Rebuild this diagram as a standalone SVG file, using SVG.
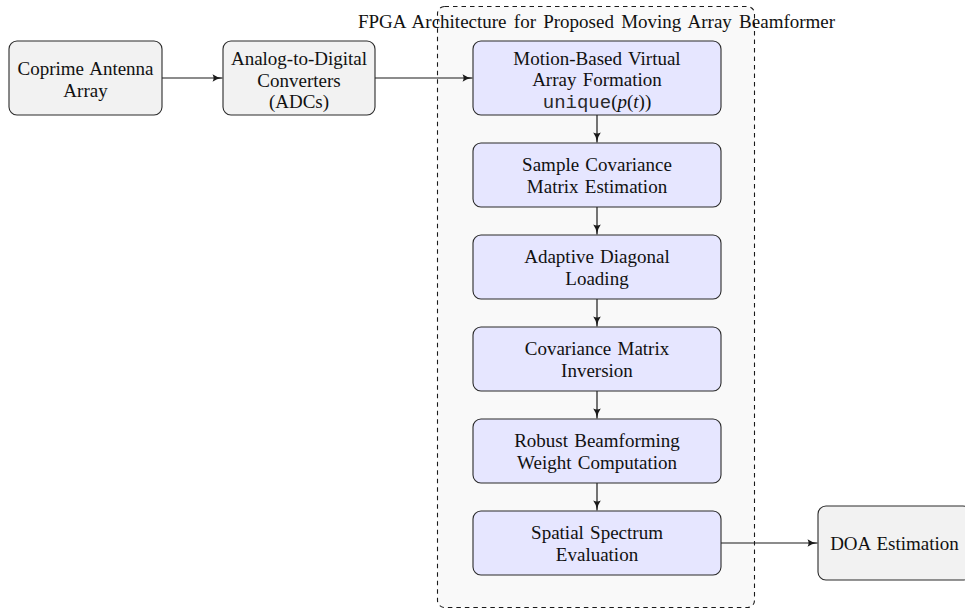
<svg xmlns="http://www.w3.org/2000/svg" width="965" height="609" viewBox="0 0 965 609">
<defs>
<style>
text{font-family:"Liberation Serif","Times New Roman",serif;font-size:19px;fill:#111;text-anchor:middle;word-spacing:1.5px}
.gray{fill:#f2f2f2;stroke:#2a2a2a;stroke-width:1.1}
.blue{fill:#e6e6ff;stroke:#2a2a2a;stroke-width:1.1}
.cont{fill:#f9f9f9;stroke:#1a1a1a;stroke-width:1.1;stroke-dasharray:4.5 4}
.edge{fill:none;stroke:#1a1a1a;stroke-width:1.2;marker-end:url(#arr)}
.mono{font-family:"Liberation Mono","Courier New",monospace;fill:#2a2a2a}
.it{font-style:italic}
</style>
<marker id="arr" markerUnits="userSpaceOnUse" markerWidth="12" markerHeight="10" viewBox="0 0 12 10" refX="11" refY="5" orient="auto">
<path d="M1,1.2 Q5,4.3 11,5 Q5,5.7 1,8.8 Q3.2,5 1,1.2 Z" fill="#1a1a1a"/>
</marker>
</defs>
<rect width="965" height="609" fill="#ffffff"/>
<g id="fpga-container">
<rect class="cont" x="437.5" y="6.5" width="317" height="601" rx="7"/>
<text x="596.5" y="28" style="word-spacing:2.5px">FPGA Architecture for Proposed Moving Array Beamformer</text>
</g>
<g id="connectors">
<path class="edge" d="M162,78 H222.5"/>
<path class="edge" d="M375,78 H472.5"/>
<path class="edge" d="M597,115 V142.5"/>
<path class="edge" d="M597,207 V234.5"/>
<path class="edge" d="M597,299 V326.5"/>
<path class="edge" d="M597,391 V418.5"/>
<path class="edge" d="M597,483 V510.5"/>
<path class="edge" d="M721,543 H817.5"/>
</g>
<g id="coprime">
<rect class="gray" x="9" y="41" width="153" height="74" rx="8"/>
<text x="85.5" y="74.5">Coprime Antenna</text>
<text x="85.5" y="96.5">Array</text>
</g>
<g id="adc">
<rect class="gray" x="223" y="41" width="152" height="74" rx="8"/>
<text x="299" y="65">Analog-to-Digital</text>
<text x="299" y="86.5">Converters</text>
<text x="299" y="108">(ADCs)</text>
</g>
<g id="motion">
<rect class="blue" x="473" y="41" width="248" height="74" rx="8"/>
<text x="597" y="64.5">Motion-Based Virtual</text>
<text x="597" y="86">Array Formation</text>
<text x="597" y="107.5"><tspan class="mono">unique</tspan>(<tspan class="it">p</tspan>(<tspan class="it">t</tspan>))</text>
</g>
<g id="sample-cov">
<rect class="blue" x="473" y="143" width="248" height="64" rx="8"/>
<text x="597" y="171">Sample Covariance</text>
<text x="597" y="193">Matrix Estimation</text>
</g>
<g id="diag-loading">
<rect class="blue" x="473" y="235" width="248" height="64" rx="8"/>
<text x="597" y="263">Adaptive Diagonal</text>
<text x="597" y="285">Loading</text>
</g>
<g id="inversion">
<rect class="blue" x="473" y="327" width="248" height="64" rx="8"/>
<text x="597" y="355">Covariance Matrix</text>
<text x="597" y="377">Inversion</text>
</g>
<g id="weights">
<rect class="blue" x="473" y="419" width="248" height="64" rx="8"/>
<text x="597" y="447">Robust Beamforming</text>
<text x="597" y="469">Weight Computation</text>
</g>
<g id="spectrum">
<rect class="blue" x="473" y="511" width="248" height="64" rx="8"/>
<text x="597" y="539">Spatial Spectrum</text>
<text x="597" y="561">Evaluation</text>
</g>
<g id="doa">
<rect class="gray" x="818" y="506" width="153" height="74" rx="8"/>
<text x="894.5" y="550">DOA Estimation</text>
</g>
</svg>
